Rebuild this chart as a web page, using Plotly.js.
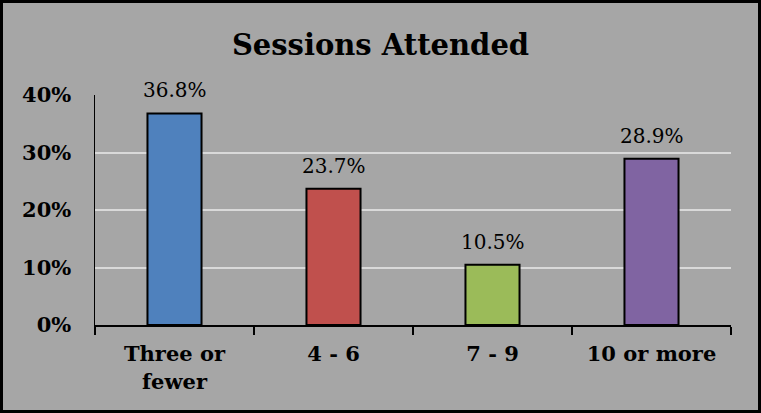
<!DOCTYPE html>
<html>
<head>
<meta charset="utf-8">
<script src="https://cdn.plot.ly/plotly-3.0.1.min.js"></script>
<style>
  html, body { margin: 0; padding: 0; background: #a6a6a6; }
  #wrap { width: 761px; height: 413px; box-sizing: border-box; border: 3px solid #000; background: #a6a6a6; }
  #chart { width: 755px; height: 407px; }
</style>
</head>
<body>
<div id="wrap"><div id="chart"></div></div>
<script>
const categories = ["Three or<br>fewer", "4 - 6", "7 - 9", "10 or more"];
const values = [0.368, 0.237, 0.105, 0.289];
const colors = ["#4f81bd", "#c0504d", "#9bbb59", "#8064a2"];
const yTicks = [0, 0.1, 0.2, 0.3, 0.4];

const FONT = "DejaVu Serif, Georgia, serif";

const trace = {
  type: "bar",
  x: categories,
  y: values,
  marker: { color: colors, line: { color: "#000", width: 2 } },
  hoverinfo: "skip"
};

const annotations = categories.map((c, i) => ({
  x: c, y: values[i], xref: "x", yref: "y",
  text: (values[i] * 100).toFixed(1) + "%",
  showarrow: false,
  yanchor: "bottom",
  yshift: 9,
  font: { family: FONT, size: 20, color: "#000" }
}));

const layout = {
  width: 755,
  height: 407,
  margin: { l: 92, r: 27, t: 92, b: 85 },
  paper_bgcolor: "#a6a6a6",
  plot_bgcolor: "#a6a6a6",
  bargap: 0.66,
  showlegend: false,
  annotations: annotations,
  title: {
    text: "<b>Sessions Attended</b>",
    font: { family: FONT, size: 29, color: "#000" },
    x: 0.5, xanchor: "center",
    y: 0.897, yanchor: "middle"
  },
  xaxis: {
    type: "category",
    showline: true, linecolor: "#000", linewidth: 2,
    ticks: "outside", tickson: "boundaries", ticklen: 8, tickwidth: 1.5, tickcolor: "#000",
    showgrid: false,
    tickfont: { family: FONT, size: 21, color: "#000", weight: "bold" },
    ticklabelstandoff: 9
  },
  yaxis: {
    range: [0, 0.4],
    tickvals: yTicks,
    tickformat: ".0%",
    showline: true, linecolor: "#000", linewidth: 1.5,
    ticks: "",
    showgrid: true, gridcolor: "#d9d9d9", gridwidth: 2,
    zeroline: false,
    tickfont: { family: FONT, size: 21, color: "#000", weight: "bold" },
    ticklabelstandoff: 18
  }
};

Plotly.newPlot("chart", [trace], layout, { displayModeBar: false, staticPlot: true });
</script>
</body>
</html>
